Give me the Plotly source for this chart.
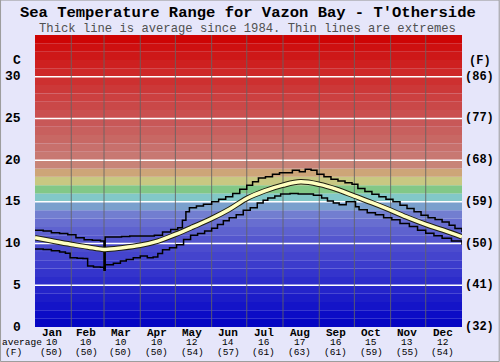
import plotly.graph_objects as go

# ---- data ----
month_names = ["Jan", "Feb", "Mar", "Apr", "May", "Jun", "Jul", "Aug", "Sep", "Oct", "Nov", "Dec"]
month_starts = [0, 31, 59, 90, 120, 151, 181, 212, 243, 273, 304, 334, 365]
avg_c_labels = [10, 10, 10, 10, 12, 14, 16, 17, 16, 15, 13, 12]
avg_f_labels = [50, 50, 50, 50, 54, 57, 61, 63, 61, 59, 55, 54]

avg_days = [0, 15, 31, 45, 59, 75, 90, 105, 120, 135, 151, 166, 181, 196, 212, 227, 243, 258, 273, 288, 304, 319, 334, 349, 365]
avg_vals = [10.7, 10.3, 9.9, 9.6, 9.3, 9.5, 9.8, 10.3, 11.1, 12.0, 13.0, 14.1, 15.4, 16.3, 17.0, 17.4, 17.1, 16.5, 15.7, 14.9, 14.0, 13.1, 12.3, 11.6, 10.8]

max_days = [0, 7, 14, 21, 28, 35, 42, 49, 56, 59, 60, 67, 74, 81, 88, 95, 102, 109, 116, 122, 126, 129, 132, 138, 144,
            151, 157, 163, 169, 175, 181, 186, 191, 197, 203, 209, 215, 220, 226, 231, 236, 241, 247, 253, 259, 265,
            271, 276, 282, 288, 294, 300, 306, 312, 318, 324, 330, 336, 342, 348, 354, 359, 365]
max_vals = [11.6, 11.5, 11.3, 11.2, 11.05, 10.7, 10.45, 10.4, 10.3, 7.0, 10.8, 10.8, 10.85, 10.9, 10.9, 10.9, 11.0, 11.4,
            11.7, 11.9, 12.8, 13.8, 14.3, 14.5, 14.7, 15.0, 15.3, 15.6, 16.0, 16.5, 17.0, 17.4, 17.85, 18.0, 18.3, 18.5,
            18.5, 18.8, 18.6, 18.9, 18.8, 18.3, 18.0, 17.7, 17.5, 17.3, 17.1, 16.6, 16.25, 15.9, 15.6, 15.3, 15.0, 14.6,
            14.2, 13.8, 13.4, 13.1, 12.9, 12.6, 12.2, 11.8, 11.4]

min_days = [0, 7, 14, 21, 26, 30, 36, 41, 45, 50, 56, 59, 60, 67, 73, 78, 84, 90, 96, 101, 105, 109, 115, 121, 127, 133,
            139, 145, 151, 156, 161, 166, 172, 178, 184, 190, 195, 199, 205, 210, 218, 225, 232, 238, 245, 250, 255, 260,
            266, 270, 274, 277, 284, 291, 298, 305, 312, 320, 327, 334, 341, 348, 356, 365]
min_vals = [9.35, 9.3, 9.15, 9.0, 8.85, 8.3, 8.25, 8.2, 7.3, 7.2, 7.15, 6.8, 7.45, 7.65, 7.9, 8.1, 8.3, 8.5, 8.3, 8.4, 8.8,
            9.25, 9.5, 9.85, 10.5, 11.0, 11.2, 11.5, 11.85, 12.3, 12.75, 13.1, 13.45, 14.0, 14.3, 14.85, 15.2, 15.45, 15.7,
            15.95, 16.0, 15.95, 15.95, 15.8, 15.45, 15.1, 14.85, 14.65, 15.0, 15.0, 14.4, 14.05, 13.7, 13.45, 13.1, 12.85,
            12.4, 12.05, 11.6, 11.25, 10.95, 10.65, 10.3, 9.85]

c_ticks = [0, 5, 10, 15, 20, 25, 30]
f_ticks = [32, 41, 50, 59, 68, 77, 86]

# ---- style: background band colours, one per degree C ----
band_colors = [
    (5, 5, 195), (12, 12, 198), (20, 20, 200), (28, 28, 200), (36, 36, 202),
    (44, 44, 202), (52, 52, 204), (60, 60, 204), (68, 68, 205), (76, 76, 206),
    (84, 86, 206), (94, 98, 207), (104, 110, 208), (114, 126, 208), (122, 160, 205),
    (130, 200, 200), (130, 200, 135), (200, 200, 130), (205, 165, 120), (200, 132, 120),
    (200, 120, 114), (200, 112, 108), (200, 104, 100), (200, 96, 94), (200, 88, 88),
    (202, 80, 80), (202, 72, 72), (204, 64, 64), (204, 56, 56), (205, 48, 48),
    (206, 40, 40), (206, 32, 32), (206, 24, 24), (206, 16, 16), (206, 4, 4),
]

FONT = "Liberation Mono, Courier New, monospace"
YMAX = 35.0

fig = go.Figure()

shapes = []
for i, (r, g, b) in enumerate(band_colors):
    shapes.append(dict(type="rect", xref="paper", yref="y", x0=0, x1=1, y0=i, y1=i + 1,
                       fillcolor=f"rgb({r},{g},{b})", line_width=0, layer="below"))
for t in c_ticks[1:]:
    shapes.append(dict(type="line", xref="paper", yref="y", x0=0, x1=1, y0=t, y1=t,
                       line=dict(color="white", width=1.5), layer="below"))
for d in month_starts[1:-1]:
    shapes.append(dict(type="line", xref="x", yref="paper", x0=d, x1=d, y0=0, y1=1,
                       line=dict(color="rgba(100,100,100,0.85)", width=1), layer="below"))
# outer border
shapes.append(dict(type="rect", xref="paper", yref="paper", x0=-0.0807, x1=1.0871, y0=-0.1183, y1=1.1197,
                   line=dict(color="#9a9a9a", width=1), fillcolor="rgba(0,0,0,0)", layer="below"))

fig.add_trace(go.Scatter(x=max_days, y=max_vals, mode="lines", line=dict(color="black", width=1.5, shape="hv"),
                         hoverinfo="skip", showlegend=False))
fig.add_trace(go.Scatter(x=min_days, y=min_vals, mode="lines", line=dict(color="black", width=1.5, shape="hv"),
                         hoverinfo="skip", showlegend=False))
fig.add_trace(go.Scatter(x=avg_days, y=avg_vals, mode="lines", line=dict(color="#202010", width=5.5, shape="spline"),
                         hoverinfo="skip", showlegend=False))
fig.add_trace(go.Scatter(x=avg_days, y=avg_vals, mode="lines", line=dict(color="#ffffc0", width=3.5, shape="spline"),
                         hoverinfo="skip", showlegend=False))


def py(t):
    return t / YMAX


ann = []
# title and subtitle
ann.append(dict(text="<b>Sea Temperature Range for Vazon Bay - T'Otherside</b>", xref="paper", yref="paper",
                x=0.4985, y=1.0768, xanchor="center", yanchor="middle", showarrow=False,
                font=dict(family=FONT, size=15.5, color="black")))
ann.append(dict(text="Thick line is average since 1984. Thin lines are extremes", xref="paper", yref="paper",
                x=0.4985, y=1.0219, xanchor="center", yanchor="middle", showarrow=False,
                font=dict(family=FONT, size=12.2, color="#505050")))
# axis labels
ann.append(dict(text="<b>C</b>", xref="paper", yref="paper", x=-0.0304, y=py(31.9), xanchor="right",
                yanchor="middle", showarrow=False, font=dict(family=FONT, size=13, color="black"), borderpad=0))
ann.append(dict(text="<b>(F)</b>", xref="paper", yref="paper", x=1.0414, y=py(31.9), xanchor="center",
                yanchor="middle", showarrow=False, font=dict(family=FONT, size=12, color="black"), borderpad=0))
for c, f in zip(c_ticks, f_ticks):
    ann.append(dict(text=f"<b>{c}</b>", xref="paper", yref="paper", x=-0.0304, y=py(c), xanchor="right",
                    yanchor="middle", showarrow=False, font=dict(family=FONT, size=13, color="black"), borderpad=0))
    ann.append(dict(text=f"<b>({f})</b>", xref="paper", yref="paper", x=1.0414, y=py(c), xanchor="center",
                    yanchor="middle", showarrow=False, font=dict(family=FONT, size=12, color="black"), borderpad=0))
# bottom month labels
for i, name in enumerate(month_names):
    xm = ((month_starts[i] + month_starts[i + 1]) / 2 - 1) / 365.0
    ann.append(dict(text=f"<b>{name}</b>", xref="paper", yref="paper", x=xm, y=py(-0.76), xanchor="center",
                    yanchor="middle", showarrow=False, font=dict(family=FONT, size=11, color="black"), borderpad=0))
    ann.append(dict(text=f"{avg_c_labels[i]}", xref="paper", yref="paper", x=xm, y=py(-1.88), xanchor="center",
                    yanchor="middle", showarrow=False, font=dict(family=FONT, size=9.5, color="black"), borderpad=0))
    ann.append(dict(text=f"({avg_f_labels[i]})", xref="paper", yref="paper", x=xm, y=py(-3.04), xanchor="center",
                    yanchor="middle", showarrow=False, font=dict(family=FONT, size=9.5, color="black"), borderpad=0))
ann.append(dict(text="average", xref="paper", yref="paper", x=-0.0304, y=py(-1.88), xanchor="center",
                yanchor="middle", showarrow=False, font=dict(family=FONT, size=9.5, color="black"), borderpad=0))
ann.append(dict(text="(F)", xref="paper", yref="paper", x=-0.0503, y=py(-3.04), xanchor="center",
                yanchor="middle", showarrow=False, font=dict(family=FONT, size=9.5, color="black"), borderpad=0))

fig.update_layout(
    width=500, height=362,
    margin=dict(l=35, r=38, t=35, b=35, pad=0),
    paper_bgcolor="#e6e6fa",
    plot_bgcolor="rgba(0,0,0,0)",
    showlegend=False,
    shapes=shapes,
    annotations=ann,
    xaxis=dict(range=[0, 365], showgrid=False, zeroline=False, showticklabels=False, ticks="", showline=False,
               fixedrange=True),
    yaxis=dict(range=[0, 35], showgrid=False, zeroline=False, showticklabels=False, ticks="", showline=False,
               fixedrange=True),
)

fig.write_html("out.html", config={"displayModeBar": False},
               post_script="document.body.style.margin='0';document.body.style.padding='0';")
